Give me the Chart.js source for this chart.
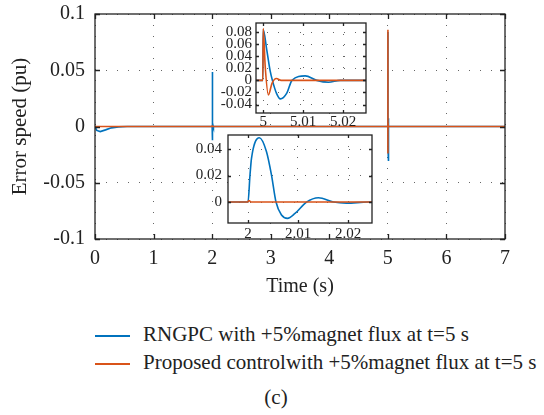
<!DOCTYPE html>
<html>
<head>
<meta charset="utf-8">
<script src="https://cdn.jsdelivr.net/npm/chart.js@4"></script>
<style>
  body { margin: 0; background: #fff; width: 544px; height: 415px; position: relative; overflow: hidden;
         font-family: "Liberation Serif", serif; color: #222; }
  canvas { position: absolute; }
  .leg { position: absolute; left: 95px; font-size: 21px; line-height: 24px; white-space: nowrap; }
  .leg i { position: absolute; left: 0; top: 13px; width: 35px; height: 1.5px; }
  .leg span { position: absolute; left: 48px; top: 0; }
  #cap { position: absolute; left: 0; width: 552px; text-align: center; top: 385px; font-size: 21px; line-height: 24px; }
</style>
</head>
<body>
<canvas id="mainChart" width="544" height="300" style="left:0;top:0"></canvas>
<canvas id="zoom5" width="165" height="118" style="left:206px;top:18px"></canvas>
<canvas id="zoom2" width="199" height="113" style="left:178px;top:130px"></canvas>

<div class="leg" style="top:322px"><i style="background:#0072BD"></i><span>RNGPC with +5%magnet flux at t=5 s</span></div>
<div class="leg" style="top:350px"><i style="background:#D95319"></i><span>Proposed controlwith +5%magnet flux at t=5 s</span></div>
<div id="cap">(c)</div>

<script>
// series (time in s, error speed in pu)
const blueT = [0, 0.03, 0.09, 0.18, 0.28, 0.4, 0.55, 1.9999, 2.0, 2.0004, 2.0007, 2.00227, 2.0037, 2.0047, 2.0056,
  2.0067, 2.0079, 2.0094, 2.0117, 2.0141, 2.0171, 2.0197, 2.024, 4.9999, 5.0, 5.0009, 5.0017, 5.0023, 5.0033,
  5.0043, 5.0059, 5.0072, 5.0105, 5.0134, 5.0163, 5.0193, 5.024, 7];
const blueV = [0, -0.0035, -0.0045, -0.003, -0.0012, -0.0003, 0, 0, 0, 0.0204, 0.033, 0.0485, 0.038, 0.0204, 0,
  -0.0098, -0.0123, -0.0086, 0, 0.0033, 0, -0.0008, 0, 0, 0.084, 0.05, 0.017, 0, -0.021,
  -0.0306, -0.021, 0, 0.0074, 0, -0.003, 0, 0, 0];
const orangeT = [0, 1.9999, 2.0002, 2.0006, 4.9999, 5.0, 5.0005, 5.0013, 5.0022, 5.0033, 5.0045, 7];
const orangeV = [0, 0, 0.0012, 0, 0, 0.086, 0.023, -0.024, -0.005, 0.003, 0, 0];

const seriesNames = ["RNGPC with +5%magnet flux at t=5 s", "Proposed controlwith +5%magnet flux at t=5 s"];

// tick labels
const mainXTicks = [0, 1, 2, 3, 4, 5, 6, 7];
const mainYTicks = [-0.1, -0.05, 0, 0.05, 0.1];
const mainYLabels = ["-0.1", "-0.05", "0", "0.05", "0.1"];
const z5XTicks = [5, 5.01, 5.02];
const z5XLabels = ["5", "5.01", "5.02"];
const z5YTicks = [-0.04, -0.02, 0, 0.02, 0.04, 0.06, 0.08];
const z5YLabels = ["-0.04", "-0.02", "0", "0.02", "0.04", "0.06", "0.08"];
const z2XTicks = [2, 2.01, 2.02];
const z2XLabels = ["2", "2.01", "2.02"];
const z2YTicks = [0, 0.02, 0.04];
const z2YLabels = ["0", "0.02", "0.04"];

const BLUE = "#0072BD", ORANGE = "#D95319", INK = "#222";
const SERIF = "'Liberation Serif', serif";

const pts = (t, v) => t.map((x, i) => ({ x: x, y: v[i] }));

// box round the plot area with small inward tick marks, like matlab
const framePlugin = {
  id: "frame",
  beforeDraw(chart, args, opts) {
    if (!opts.fill) return;
    const a = chart.chartArea;
    chart.ctx.save();
    chart.ctx.fillStyle = "#fff";
    chart.ctx.fillRect(a.left, a.top, a.width, a.height);
    chart.ctx.restore();
  },
  afterDatasetsDraw(chart, args, opts) {
    const { ctx, chartArea: a, scales } = chart;
    const len = opts.tick || 4;
    ctx.save();
    ctx.strokeStyle = INK;
    ctx.lineWidth = 1.3;
    ctx.beginPath();
    scales.x.ticks.forEach((t) => {
      const px = Math.round(scales.x.getPixelForValue(t.value)) + 0.5;
      ctx.moveTo(px, a.bottom); ctx.lineTo(px, a.bottom - len);
      ctx.moveTo(px, a.top); ctx.lineTo(px, a.top + len);
    });
    scales.y.ticks.forEach((t) => {
      const py = Math.round(scales.y.getPixelForValue(t.value)) + 0.5;
      ctx.moveTo(a.left, py); ctx.lineTo(a.left + len, py);
      ctx.moveTo(a.right, py); ctx.lineTo(a.right - len, py);
    });
    ctx.stroke();
    ctx.strokeRect(a.left, a.top, a.width, a.height);
    ctx.restore();
  },
};

function datasets(width, mono) {
  return [
    { label: seriesNames[0], data: pts(blueT, blueV), borderColor: BLUE, borderWidth: width, order: 1,
      pointRadius: 0, clip: 0, cubicInterpolationMode: mono ? "monotone" : "default" },
    { label: seriesNames[1], data: pts(orangeT, orangeV), borderColor: ORANGE, borderWidth: width, order: 0,
      pointRadius: 0, clip: 0, cubicInterpolationMode: mono ? "monotone" : "default" },
  ];
}

function axis(o) {
  return {
    type: "linear",
    min: o.min,
    max: o.max,
    afterBuildTicks: (s) => { s.ticks = o.ticks.map((v) => ({ value: v })); },
    afterFit: (s) => {
      // no extra room for the end labels, the plot box is placed by hand
      s.paddingTop = 0; s.paddingBottom = 0; s.paddingLeft = 0; s.paddingRight = 0;
      o.fit(s);
    },
    ticks: {
      color: INK,
      padding: o.pad,
      autoSkip: false,
      maxRotation: 0,
      font: { family: SERIF, size: o.size },
      callback: (v, i) => (o.labels ? o.labels[i] : String(v)),
    },
    grid: { color: "#666", lineWidth: 1, drawTicks: false },
    border: { display: false, dash: [1, 10] },
    title: o.title || { display: false },
  };
}

function baseOptions(padding, x, y, frame) {
  return {
    responsive: false,
    animation: false,
    events: [],
    layout: { padding: padding },
    plugins: { legend: { display: false }, tooltip: { enabled: false }, frame: frame },
    scales: { x: x, y: y },
  };
}

new Chart(document.getElementById("mainChart"), {
  type: "line",
  data: { datasets: datasets(1.6, false) },
  plugins: [framePlugin],
  options: baseOptions(
    { top: 14, right: 39, left: 0, bottom: 0 },
    axis({ min: 0, max: 7, ticks: mainXTicks, size: 20, pad: 8, fit: (s) => { s.height = 61; },
      title: { display: true, text: "Time (s)", color: INK, font: { family: SERIF, size: 20 }, padding: { top: 0, bottom: 1 } } }),
    axis({ min: -0.1, max: 0.1, ticks: mainYTicks, labels: mainYLabels, size: 20, pad: 10, fit: (s) => { s.width = 95; },
      title: { display: true, text: "Error speed (pu)", color: INK, font: { family: SERIF, size: 21 }, padding: { top: 8, bottom: 0 } } }),
    { tick: 5, fill: false }
  ),
});

new Chart(document.getElementById("zoom5"), {
  type: "line",
  data: { datasets: datasets(1.6, true) },
  plugins: [framePlugin],
  options: baseOptions(
    { top: 5, right: 5, left: 0, bottom: 0 },
    axis({ min: 4.9982, max: 5.0257, ticks: z5XTicks, labels: z5XLabels, size: 15, pad: 0, fit: (s) => { s.height = 23; } }),
    axis({ min: -0.054, max: 0.095, ticks: z5YTicks, labels: z5YLabels, size: 15, pad: 4, fit: (s) => { s.width = 50; } }),
    { tick: 3, fill: true }
  ),
});

new Chart(document.getElementById("zoom2"), {
  type: "line",
  data: { datasets: datasets(1.6, true) },
  plugins: [framePlugin],
  options: baseOptions(
    { top: 5, right: 5, left: 0, bottom: 0 },
    axis({ min: 1.996, max: 2.0248, ticks: z2XTicks, labels: z2XLabels, size: 15, pad: 2, fit: (s) => { s.height = 20; } }),
    axis({ min: -0.0158, max: 0.0506, ticks: z2YTicks, labels: z2YLabels, size: 15, pad: 6, fit: (s) => { s.width = 50; } }),
    { tick: 3, fill: true }
  ),
});
</script>
</body>
</html>
